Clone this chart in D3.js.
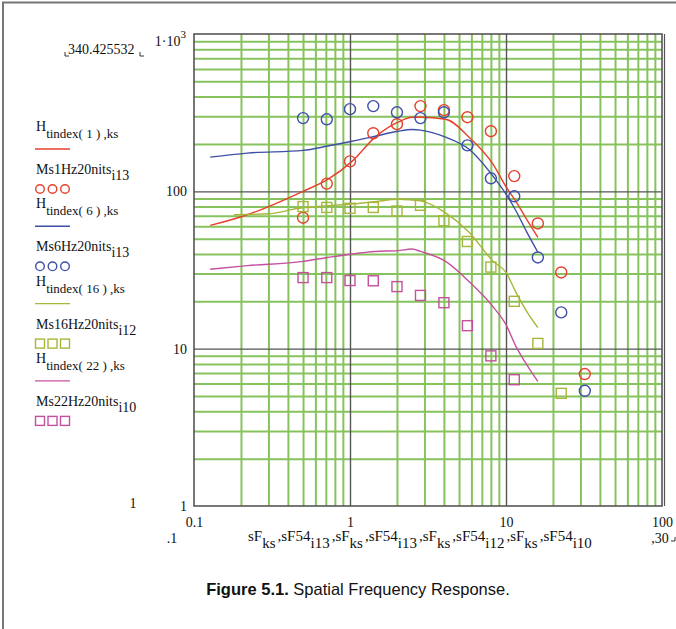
<!DOCTYPE html>
<html>
<head>
<meta charset="utf-8">
<script src="https://cdn.jsdelivr.net/npm/d3@7"></script>
<style>
  body { margin: 0; background: #fff; }
  text { font-family: "Liberation Serif", "Times New Roman", serif; fill: #111; }
</style>
</head>
<body>
<script>
// measured points (sF54) and model curves (sF)
var freq = [0.5, 0.71, 1.0, 1.41, 2.0, 2.83, 4.0, 5.66, 8.0, 11.3, 16.0, 22.6, 32.0];
var ms1 = [68, 112, 155, 234, 267, 348, 328, 296, 241, 125, 62.5, 30.5, 6.9];
var ms6 = [292, 287, 333, 348, 318, 292, 318, 196, 121, 93, 38, 17, 5.4];
var ms16 = [80, 79, 78, 79, 75, 81.5, 65, 48, 33, 20, 10.8, 5.2];
var ms22 = [28.3, 28.3, 27.1, 27, 24.8, 21.8, 19.6, 14, 9.0, 6.35];

var curveX = [0.127, 0.22, 0.5, 0.72, 1.03, 1.45, 2.03, 2.5, 2.83, 4.1, 5.8, 8.25, 10, 11.6, 13.6, 16];
var h1 = [60.7, 71, 100, 119, 155, 221, 275, 296, 296, 287, 221, 149, 107, 86, 66, 51];
var h6 = [165, 175, 182, 194, 208, 224, 241, 247, 245, 221, 185, 125, 96, 75, 55, 41];
var h22 = [32, 33.7, 35.9, 38, 40, 41.5, 42, 43, 41.5, 35.9, 26.7, 18.5, 14.2, 10.3, 7.9, 6.2];
var curveX16 = [0.18, 0.3, 0.47, 0.72, 1.03, 1.45, 2.03, 2.83, 4.1, 5.8, 8.25, 10, 11.6, 13.6, 16];
var h16 = [71, 72, 78, 81, 83, 86, 89, 87, 73, 55, 36, 30.5, 22.7, 17.2, 13.6];

var xMajor = [0.1, 1, 10, 100];
var yMajor = [1, 10, 100];
var xGrid = [0.2,0.3,0.4,0.5,0.6,0.7,0.8,0.9, 2,3,4,5,6,7,8,9, 20,30,40,50,60,70,80,90];
var yGrid = [2,3,4,5,6,7,8,9, 20,30,40,50,60,70,80,90, 200,300,400,500,600,700,800,900];

var red = "#e5412d", blue = "#3f4fa8", olive = "#a9b63c", pink = "#c4509e", green = "#86c35c";

var svg = d3.select("body").append("svg")
  .attr("width", 676)
  .attr("height", 629);

// figure frame (left + top)
svg.append("path").attr("d", "M3,629 V2.5 H676")
  .attr("fill", "none").attr("stroke", "#777").attr("stroke-width", 2);

var x = d3.scaleLog().domain([0.1, 100]).range([194, 662]);
var y = d3.scaleLog().domain([1, 1000]).range([506, 34]);
var h = y(1) - y(1000), w = x(100) - x(0.1);

// green grid
var gx = svg.append("g").attr("transform", "translate(0," + y(1) + ")")
  .call(d3.axisBottom(x).tickValues(xGrid).tickSize(-h).tickFormat(""));
var gy = svg.append("g").attr("transform", "translate(" + x(0.1) + ",0)")
  .call(d3.axisLeft(y).tickValues(yGrid).tickSize(-w).tickFormat(""));
[gx, gy].forEach(function(g) {
  g.select(".domain").remove();
  g.selectAll("line").attr("stroke", green).attr("stroke-width", 2);
});

// decade lines
var dx = svg.append("g").attr("transform", "translate(0," + y(1) + ")")
  .call(d3.axisBottom(x).tickValues([1, 10]).tickSize(-h).tickFormat(""));
var dy = svg.append("g").attr("transform", "translate(" + x(0.1) + ",0)")
  .call(d3.axisLeft(y).tickValues([10, 100]).tickSize(-w).tickFormat(""));
[dx, dy].forEach(function(g) {
  g.select(".domain").remove();
  g.selectAll("line").attr("stroke", "#555").attr("stroke-width", 1.4);
});

svg.append("rect")
  .attr("x", x(0.1)).attr("y", y(1000)).attr("width", w).attr("height", h)
  .attr("fill", "none").attr("stroke", "#555").attr("stroke-width", 1.6);
svg.append("line").attr("x1", x(100) + 2.5).attr("x2", x(100) + 2.5)
  .attr("y1", y(1000)).attr("y2", y(1)).attr("stroke", "#555").attr("stroke-width", 1.2);

// tick labels
var ax = svg.append("g").attr("transform", "translate(0," + y(1) + ")")
  .call(d3.axisBottom(x).tickValues(xMajor).tickSize(0).tickPadding(11)
    .tickFormat(function(d) { return d === 0.1 ? "0.1" : d3.format("d")(d); }));
var ay = svg.append("g").attr("transform", "translate(" + (x(0.1) - 1) + ",0)")
  .call(d3.axisLeft(y).tickValues(yMajor).tickSize(0).tickPadding(6)
    .tickFormat(d3.format("d")));
[ax, ay].forEach(function(g) {
  g.select(".domain").remove();
  g.attr("font-size", 14).attr("font-family", "Liberation Serif");
  g.selectAll("text").attr("fill", "#111");
});

var topLbl = svg.append("text").attr("x", 186).attr("y", 46).attr("font-size", 14).attr("text-anchor", "end");
topLbl.append("tspan").text("1\u00b710");
topLbl.append("tspan").attr("dy", -8).attr("font-size", 11).text("3");

// range fields
svg.append("text").attr("x", 68).attr("y", 54).attr("font-size", 14).text("340.425532");
svg.append("text").attr("x", 133).attr("y", 508).attr("font-size", 14).attr("text-anchor", "middle").text("1");
svg.append("text").attr("x", 172).attr("y", 543).attr("font-size", 14).attr("text-anchor", "middle").text(".1");
svg.append("text").attr("x", 660).attr("y", 543).attr("font-size", 14).attr("text-anchor", "middle").text(",30");
function corner(px, py) {
  svg.append("path").attr("d", "M" + px + "," + (py - 4) + " V" + py + " H" + (px + 4))
    .attr("fill", "none").attr("stroke", "#333").attr("stroke-width", 1);
}
corner(65, 56); corner(140, 56);
svg.append("path").attr("d", "M671,541 H675 V537").attr("fill", "none").attr("stroke", "#333");

// x axis expression
var xl = svg.append("text").attr("x", 248).attr("y", 541).attr("font-size", 15);
var parts = [["sF", "ks"], [",sF54", "i13"], [",sF", "ks"], [",sF54", "i13"],
             [",sF", "ks"], [",sF54", "i12"], [",sF", "ks"], [",sF54", "i10"]];
parts.forEach(function(p, i) {
  xl.append("tspan").attr("dy", i === 0 ? 0 : -7).attr("dx", i === 0 ? 0 : 2).text(p[0]);
  xl.append("tspan").attr("dy", 7).text(p[1]);
});

// curves
var line = d3.line()
  .x(function(d) { return x(d[0]); })
  .y(function(d) { return y(d[1]); })
  .curve(d3.curveMonotoneX);

var curves = [
  {xs: curveX, ys: h1, c: red},
  {xs: curveX, ys: h6, c: blue},
  {xs: curveX16, ys: h16, c: olive},
  {xs: curveX, ys: h22, c: pink}
];
curves.forEach(function(s) {
  svg.append("path")
    .datum(s.xs.map(function(v, i) { return [v, s.ys[i]]; }))
    .attr("fill", "none").attr("stroke", s.c).attr("stroke-width", 1.4)
    .attr("d", line);
});

// markers
var sets = [
  {ys: ms1, c: red, shape: "circle"},
  {ys: ms6, c: blue, shape: "circle"},
  {ys: ms16, c: olive, shape: "square"},
  {ys: ms22, c: pink, shape: "square"}
];
sets.forEach(function(s) {
  var pts = s.ys.map(function(v, i) { return [freq[i], v]; });
  if (s.shape === "circle") {
    svg.append("g").selectAll("circle").data(pts).enter().append("circle")
      .attr("cx", function(d) { return x(d[0]); })
      .attr("cy", function(d) { return y(d[1]); })
      .attr("r", 5.5).attr("fill", "none").attr("stroke", s.c).attr("stroke-width", 1.4);
  } else {
    svg.append("g").selectAll("rect").data(pts).enter().append("rect")
      .attr("x", function(d) { return x(d[0]) - 5; })
      .attr("y", function(d) { return y(d[1]) - 5; })
      .attr("width", 10).attr("height", 10)
      .attr("fill", "none").attr("stroke", s.c).attr("stroke-width", 1.4);
  }
});

// legend
var legend = [
  {h: "tindex( 1 ) ,ks", m: "Ms1Hz20nits", i: "i13", c: red, shape: "circle"},
  {h: "tindex( 6 ) ,ks", m: "Ms6Hz20nits", i: "i13", c: blue, shape: "circle"},
  {h: "tindex( 16 ) ,ks", m: "Ms16Hz20nits", i: "i12", c: olive, shape: "square"},
  {h: "tindex( 22 ) ,ks", m: "Ms22Hz20nits", i: "i10", c: pink, shape: "square"}
];
legend.forEach(function(e, k) {
  var b = 131 + k * 77.3;
  var t = svg.append("text").attr("x", 36).attr("y", b).attr("font-size", 14);
  t.append("tspan").text("H");
  t.append("tspan").attr("dy", 7).attr("font-size", 13).text(e.h);
  svg.append("line").attr("x1", 35).attr("x2", 70).attr("y1", b + 18).attr("y2", b + 18)
    .attr("stroke", e.c).attr("stroke-width", 1.4);
  var t2 = svg.append("text").attr("x", 36).attr("y", b + 43).attr("font-size", 14);
  t2.append("tspan").text(e.m);
  t2.append("tspan").attr("dy", 6).text(e.i);
  [0, 1, 2].forEach(function(j) {
    var cx = 40 + j * 12.5, cy = b + 58;
    if (e.shape === "circle") {
      svg.append("circle").attr("cx", cx).attr("cy", cy).attr("r", 4.3)
        .attr("fill", "none").attr("stroke", e.c).attr("stroke-width", 1.4);
    } else {
      svg.append("rect").attr("x", cx - 4.5).attr("y", cy - 4.5).attr("width", 9).attr("height", 9)
        .attr("fill", "none").attr("stroke", e.c).attr("stroke-width", 1.4);
    }
  });
});

// caption
var cap = svg.append("text").attr("x", 358).attr("y", 595).attr("text-anchor", "middle")
  .attr("font-size", 16.5).style("font-family", "'Liberation Sans', Arial, sans-serif");
cap.append("tspan").attr("font-weight", "bold").text("Figure 5.1.");
cap.append("tspan").text(" Spatial Frequency Response.");
</script>
</body>
</html>
